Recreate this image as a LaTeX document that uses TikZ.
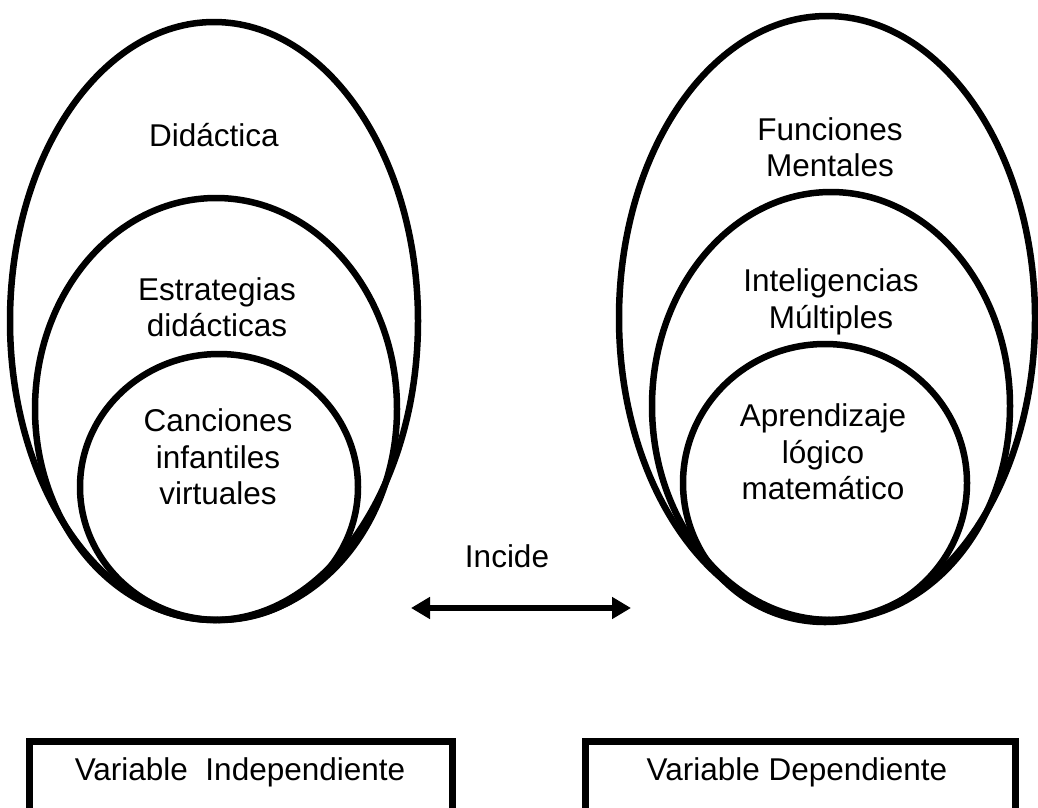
\documentclass[tikz,border=0pt]{standalone}
\usepackage{fontspec}
\setmainfont{Liberation Sans}
\usetikzlibrary{arrows.meta, positioning}

\begin{document}
\begin{tikzpicture}[x=1pt, y=-1pt,
    myellipse/.style={line width=6.5pt, draw=black},
    mytext/.style={align=center, font=\fontsize{31.5}{36.5}\selectfont, inner sep=0pt},
    mybox/.style={rectangle, draw=black, line width=7pt, minimum height=130pt, anchor=north},
    myarrow/.style={line width=5.5pt, {Triangle[length=19pt, width=21pt]}-{Triangle[length=19pt, width=21pt]}}]
    \useasboundingbox (0,0) rectangle (1038,807);
    \clip (0,0) rectangle (1038,807);
    % left variable
    \draw[myellipse] (214,321) ellipse [x radius=204pt, y radius=299pt];
    \draw[myellipse] (216,409) ellipse [x radius=181pt, y radius=211pt];
    \draw[myellipse] (219,487) ellipse [x radius=139pt, y radius=133pt];
    \node[mytext] (didactica) at (214,135) {Didáctica};
    \node[mytext] (estrategias) at (217,307) {Estrategias\\didácticas};
    \node[mytext] (canciones) at (218,457) {Canciones\\infantiles\\virtuales};
    % right variable
    \draw[myellipse] (827,318) ellipse [x radius=208pt, y radius=302pt];
    \draw[myellipse] (831,406) ellipse [x radius=179pt, y radius=214pt];
    \draw[myellipse] (825,483) ellipse [x radius=142pt, y radius=139pt];
    \node[mytext] (funciones) at (830,147) {Funciones\\Mentales};
    \node[mytext] (inteligencias) at (831,302) {Inteligencias\\Múltiples};
    \node[mytext] (aprendizaje) at (823,452) {Aprendizaje\\lógico\\matemático};
    % relation
    \node[mytext] (incide) at (507,556) {Incide};
    \coordinate (izq) at (411,608);
    \coordinate (der) at (631,608);
    \draw[myarrow] (izq) -- (der);
    % boxes, cut by the page bottom
    \node[mybox, minimum width=423pt] (cajaVI) at (241,738) {};
    \node[mybox, minimum width=430pt] (cajaVD) at (800,738) {};
    \node[mytext] (vi) at (240,772) {Variable\ \ Independiente};
    \node[mytext] (vd) at (797,772) {Variable Dependiente};
\end{tikzpicture}
\end{document}
